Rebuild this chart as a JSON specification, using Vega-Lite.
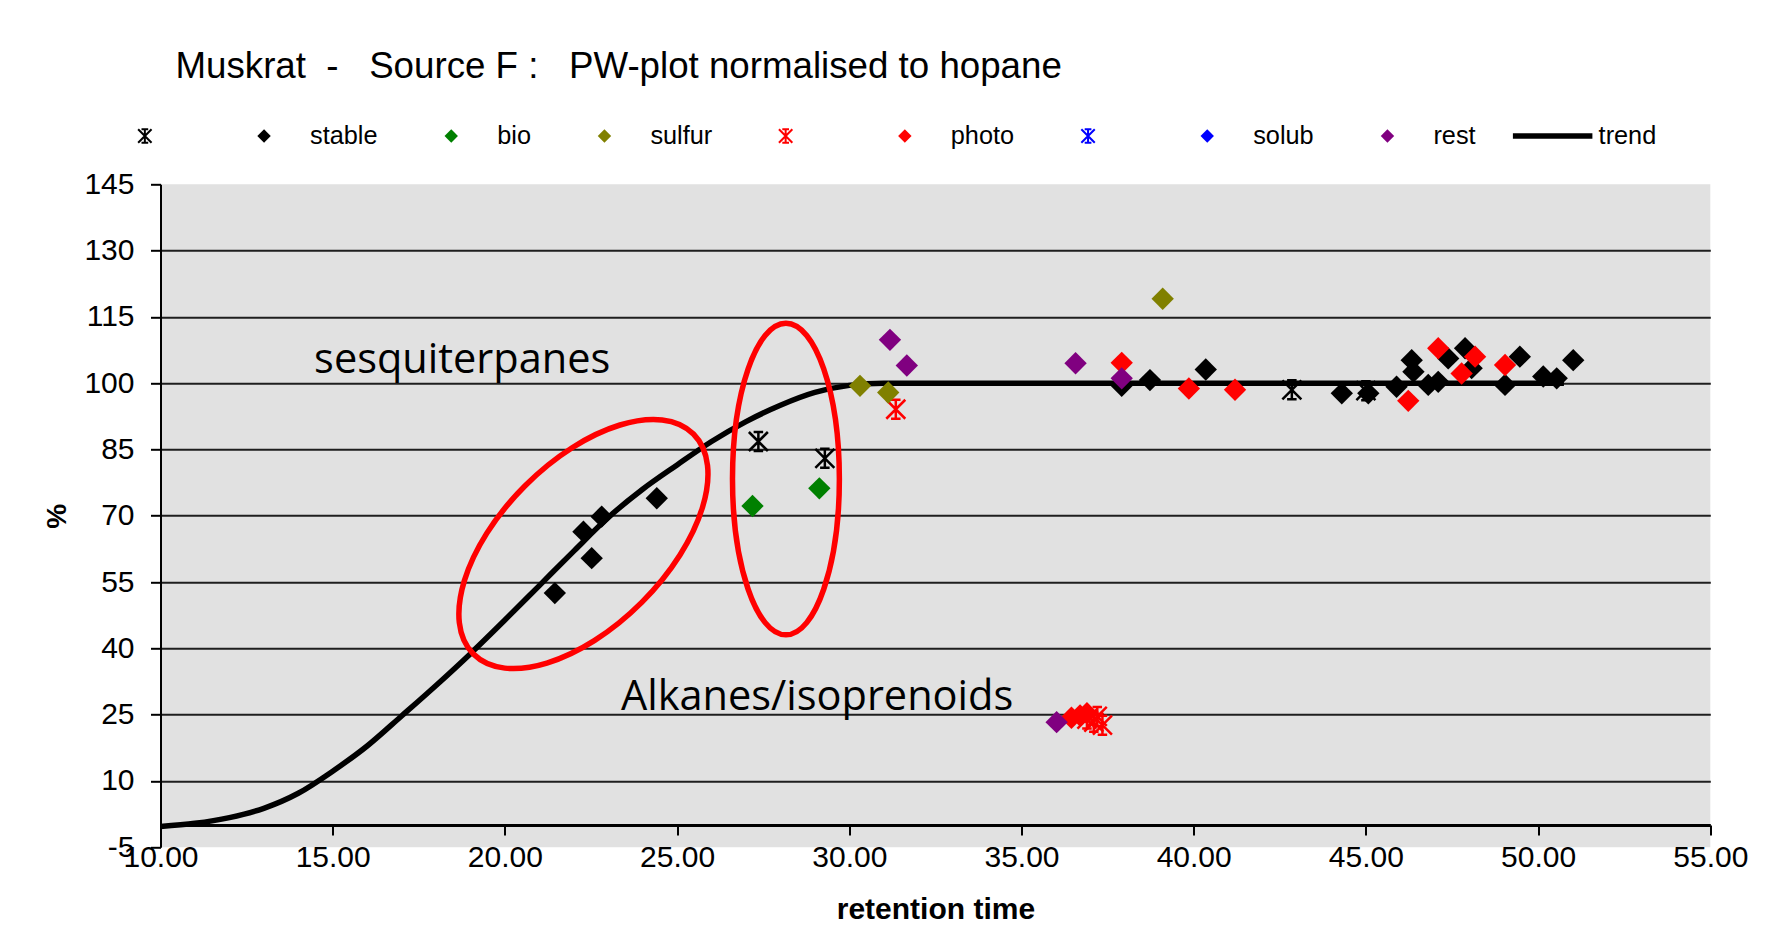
{
  "$schema": "https://vega.github.io/schema/vega-lite/v6.json",
  "width": 1549.8,
  "height": 662.9,
  "autosize": {"type": "none"},
  "padding": {"left": 160.5, "top": 184.3, "right": 65.7, "bottom": 97.8},
  "background": "white",
  "title": {
    "text": "Muskrat\u00a0 -\u00a0\u00a0 Source F :\u00a0\u00a0 PW-plot normalised to hopane",
    "anchor": "start",
    "frame": "group",
    "dx": 15,
    "offset": 38,
    "font": "Liberation Sans",
    "fontSize": 36.7,
    "fontWeight": "normal",
    "color": "black"
  },
  "config": {
    "view": {"fill": "#e1e1e1", "stroke": null}
  },
  "datasets": {
    "trend": [
      {"x": 10, "y": -0.3, "series": "trend"},
      {"x": 11, "y": 0.4, "series": "trend"},
      {"x": 12, "y": 1.7, "series": "trend"},
      {"x": 13, "y": 3.8, "series": "trend"},
      {"x": 14, "y": 7.2, "series": "trend"},
      {"x": 15, "y": 12.2, "series": "trend"},
      {"x": 16, "y": 17.9, "series": "trend"},
      {"x": 17, "y": 24.7, "series": "trend"},
      {"x": 18, "y": 31.6, "series": "trend"},
      {"x": 19, "y": 38.8, "series": "trend"},
      {"x": 20, "y": 46.4, "series": "trend"},
      {"x": 21, "y": 54.2, "series": "trend"},
      {"x": 22, "y": 62.0, "series": "trend"},
      {"x": 23, "y": 69.6, "series": "trend"},
      {"x": 24, "y": 76.0, "series": "trend"},
      {"x": 25, "y": 81.5, "series": "trend"},
      {"x": 26, "y": 86.8, "series": "trend"},
      {"x": 27, "y": 91.3, "series": "trend"},
      {"x": 28, "y": 95.0, "series": "trend"},
      {"x": 29, "y": 97.9, "series": "trend"},
      {"x": 30, "y": 99.5, "series": "trend"},
      {"x": 31, "y": 100, "series": "trend"},
      {"x": 50.75, "y": 100, "series": "trend"}
    ],
    "asterisks": [
      {"x": 27.36, "y": 86.8, "series": "stable*"},
      {"x": 29.29, "y": 83.0, "series": "stable*"},
      {"x": 42.85, "y": 98.5, "series": "stable*"},
      {"x": 45.0, "y": 98.3, "series": "stable*"},
      {"x": 31.35, "y": 94.1, "series": "photo*"},
      {"x": 36.9, "y": 24.0, "series": "photo*"},
      {"x": 37.1, "y": 23.3, "series": "photo*"},
      {"x": 37.2, "y": 24.6, "series": "photo*"},
      {"x": 37.35, "y": 22.6, "series": "photo*"}
    ],
    "diamonds": [
      {"x": 21.45, "y": 52.5, "series": "stable"},
      {"x": 22.28, "y": 66.4, "series": "stable"},
      {"x": 22.52, "y": 60.4, "series": "stable"},
      {"x": 22.81, "y": 69.8, "series": "stable"},
      {"x": 24.41, "y": 73.95, "series": "stable"},
      {"x": 37.91, "y": 99.4, "series": "stable"},
      {"x": 38.73, "y": 100.7, "series": "stable"},
      {"x": 40.35, "y": 103.1, "series": "stable"},
      {"x": 44.3, "y": 97.7, "series": "stable"},
      {"x": 45.07, "y": 97.7, "series": "stable"},
      {"x": 45.89, "y": 99.2, "series": "stable"},
      {"x": 46.33, "y": 105.2, "series": "stable"},
      {"x": 46.38, "y": 102.6, "series": "stable"},
      {"x": 46.81, "y": 99.6, "series": "stable"},
      {"x": 47.1, "y": 100.3, "series": "stable"},
      {"x": 47.39, "y": 105.6, "series": "stable"},
      {"x": 47.88, "y": 107.9, "series": "stable"},
      {"x": 48.07, "y": 103.4, "series": "stable"},
      {"x": 49.04, "y": 99.6, "series": "stable"},
      {"x": 49.47, "y": 106.0, "series": "stable"},
      {"x": 50.15, "y": 101.5, "series": "stable"},
      {"x": 50.54, "y": 101.1, "series": "stable"},
      {"x": 51.02, "y": 105.2, "series": "stable"},
      {"x": 27.19, "y": 72.2, "series": "bio"},
      {"x": 29.13, "y": 76.2, "series": "bio"},
      {"x": 30.31, "y": 99.4, "series": "sulfur"},
      {"x": 31.13, "y": 97.9, "series": "sulfur"},
      {"x": 39.1, "y": 119.1, "series": "sulfur"},
      {"x": 36.45, "y": 24.3, "series": "photo"},
      {"x": 36.7, "y": 24.8, "series": "photo"},
      {"x": 36.9, "y": 25.3, "series": "photo"},
      {"x": 37.91, "y": 104.6, "series": "photo"},
      {"x": 39.86, "y": 98.8, "series": "photo"},
      {"x": 41.2, "y": 98.5, "series": "photo"},
      {"x": 46.23, "y": 96.0, "series": "photo"},
      {"x": 47.1, "y": 107.9, "series": "photo"},
      {"x": 47.78, "y": 102.2, "series": "photo"},
      {"x": 48.17, "y": 106.0, "series": "photo"},
      {"x": 49.04, "y": 104.1, "series": "photo"},
      {"x": 31.18, "y": 109.8, "series": "rest"},
      {"x": 31.67, "y": 104.0, "series": "rest"},
      {"x": 36.57, "y": 104.5, "series": "rest"},
      {"x": 37.91, "y": 101.1, "series": "rest"},
      {"x": 36.02, "y": 23.3, "series": "rest"}
    ],
    "notes": [
      {"x": 14.46, "y": 102.3, "label": "sesquiterpanes"},
      {"x": 23.37, "y": 26.05, "label": "Alkanes/isoprenoids"}
    ],
    "ring1": [{"x": 22.28, "y": 63.6}],
    "ring2": [{"x": 28.16, "y": 78.3}]
  },
  "layer": [
    {
      "data": {"name": "trend"},
      "mark": {"type": "line", "strokeWidth": 5.5, "interpolate": "monotone"},
      "encoding": {
        "x": {
          "field": "x", "type": "quantitative",
          "scale": {"domain": [10, 55], "nice": false, "zero": false},
          "axis": {
            "values": [10, 15, 20, 25, 30, 35, 40, 45, 50, 55],
            "format": ".2f",
            "offset": -22.1,
            "tickSize": 10, "tickWidth": 2, "tickColor": "black",
            "domainColor": "black", "domainWidth": 3,
            "labelFont": "Liberation Sans", "labelFontSize": 30, "labelColor": "black",
            "labelPadding": 7.5, "labelFlush": false, "labelOverlap": false,
            "grid": false,
            "title": "retention time",
            "titleFont": "Liberation Sans", "titleFontSize": 30, "titleFontWeight": "bold",
            "titleColor": "black", "titlePadding": 21.4
          }
        },
        "y": {
          "field": "y", "type": "quantitative",
          "scale": {"domain": [-5, 145], "nice": false, "zero": false},
          "axis": {
            "values": [-5, 10, 25, 40, 55, 70, 85, 100, 115, 130, 145],
            "labelExpr": "datum.value < 0 ? '-' + format(-datum.value, 'd') : datum.label",
            "title": "%",
            "titleFont": "Liberation Sans", "titleFontSize": 28, "titleFontWeight": "bold",
            "titleColor": "black", "titlePadding": 12,
            "labelFont": "Liberation Sans", "labelFontSize": 30, "labelColor": "black",
            "labelPadding": 16.5, "labelFlush": false, "labelOverlap": false,
            "tickSize": 10, "tickWidth": 2, "tickColor": "black",
            "domainColor": "black", "domainWidth": 2,
            "grid": true, "gridColor": "#1e1e1e", "gridWidth": 2,
            "gridOpacity": {"condition": {"test": "datum.value < 0 || datum.value > 140", "value": 0}, "value": 1}
          }
        },
        "color": {
          "field": "series", "type": "nominal",
          "scale": {
            "domain": ["stable*", "stable", "bio", "sulfur", "photo*", "photo", "solub*", "solub", "rest", "trend"],
            "range": ["#000000", "#000000", "#008000", "#808000", "#ff0000", "#ff0000", "#0000ff", "#0000ff", "#800080", "#000000"]
          },
          "legend": {
            "title": null,
            "orient": "none",
            "legendX": -28.3,
            "legendY": -61,
            "direction": "horizontal",
            "columns": 10,
            "padding": 0,
            "symbolSize": 180,
            "labelOffset": 33.3,
            "columnPadding": 25.2,
            "labelFont": "Liberation Sans",
            "labelFontSize": 25.3,
            "labelColor": "black",
            "labelExpr": "(datum.label === 'stable*' || datum.label === 'photo*' || datum.label === 'solub*') ? '\u200b\u00a0\u00a0\u00a0\u00a0\u00a0\u200b' : ((datum.label === 'rest' || datum.label === 'trend') ? datum.label : datum.label + '\u00a0\u00a0\u00a0\u00a0\u00a0\u200b')",
            "encode": {
              "symbols": {
                "update": {
                  "shape": {"signal": "datum.value === 'trend' ? 'stroke' : ((datum.value === 'stable*' || datum.value === 'photo*' || datum.value === 'solub*') ? 'M-1,-1L1,1M1,-1L-1,1M0,-1L0,1M-0.5,-1L0.5,-1M-0.5,1L0.5,1' : 'diamond')"},
                  "fill": {"signal": "(datum.value === 'trend' || datum.value === 'stable*' || datum.value === 'photo*' || datum.value === 'solub*') ? 'transparent' : scale('color', datum.value)"},
                  "stroke": {"signal": "datum.value === 'trend' ? 'black' : ((datum.value === 'stable*' || datum.value === 'photo*' || datum.value === 'solub*') ? scale('color', datum.value) : 'transparent')"},
                  "strokeWidth": {"signal": "datum.value === 'trend' ? 5.5 : ((datum.value === 'stable*' || datum.value === 'photo*' || datum.value === 'solub*') ? 2 : 0)"},
                  "size": {"signal": "datum.value === 'trend' ? 6320 : 180"},
                  "opacity": {"value": 1}
                }
              }
            }
          }
        }
      }
    },
    {
      "data": {"name": "asterisks"},
      "mark": {
        "type": "point",
        "shape": "M-1,-1L1,1M1,-1L-1,1M0,-1L0,1M-0.5,-1L0.5,-1M-0.5,1L0.5,1",
        "filled": false, "size": 361, "strokeWidth": 2.5, "opacity": 1
      },
      "encoding": {
        "x": {"field": "x", "type": "quantitative"},
        "y": {"field": "y", "type": "quantitative"},
        "color": {"field": "series", "type": "nominal"}
      }
    },
    {
      "data": {"name": "diamonds"},
      "mark": {"type": "point", "shape": "diamond", "filled": true, "size": 500, "opacity": 1},
      "encoding": {
        "x": {"field": "x", "type": "quantitative"},
        "y": {"field": "y", "type": "quantitative"},
        "color": {"field": "series", "type": "nominal"}
      }
    },
    {
      "data": {"name": "notes"},
      "mark": {"type": "text", "font": "Open Sans", "fontSize": 41.5, "align": "left", "baseline": "alphabetic", "color": "black"},
      "encoding": {
        "x": {"field": "x", "type": "quantitative"},
        "y": {"field": "y", "type": "quantitative"},
        "text": {"field": "label"}
      }
    },
    {
      "data": {"name": "ring1"},
      "mark": {
        "type": "point",
        "shape": "M1,0C1,0.2927,0.5523,0.53,0,0.53C-0.5523,0.53,-1,0.2927,-1,0C-1,-0.2927,-0.5523,-0.53,0,-0.53C0.5523,-0.53,1,-0.2927,1,0Z",
        "size": 96845, "angle": 315, "filled": false, "stroke": "#ff0000", "strokeWidth": 5.5, "opacity": 1
      },
      "encoding": {
        "x": {"field": "x", "type": "quantitative"},
        "y": {"field": "y", "type": "quantitative"}
      }
    },
    {
      "data": {"name": "ring2"},
      "mark": {
        "type": "point",
        "shape": "M1,0C1,0.1894,0.5523,0.343,0,0.343C-0.5523,0.343,-1,0.1894,-1,0C-1,-0.1894,-0.5523,-0.343,0,-0.343C0.5523,-0.343,1,-0.1894,1,0Z",
        "size": 97095, "angle": 90, "filled": false, "stroke": "#ff0000", "strokeWidth": 5.5, "opacity": 1
      },
      "encoding": {
        "x": {"field": "x", "type": "quantitative"},
        "y": {"field": "y", "type": "quantitative"}
      }
    }
  ]
}
